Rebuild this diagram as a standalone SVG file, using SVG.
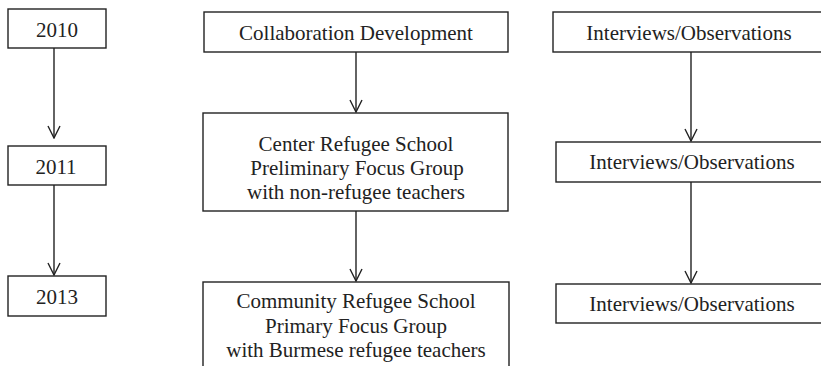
<svg xmlns="http://www.w3.org/2000/svg" width="821" height="366" viewBox="0 0 821 366">
  <style>
    .box { fill: #ffffff; stroke: #222222; stroke-width: 1.4; }
    .lbl { font-family: "Liberation Serif", "Times New Roman", serif; font-size: 21px; fill: #222222; text-anchor: middle; }
    .edge { stroke: #222222; stroke-width: 1.4; fill: none; marker-end: url(#head); }
  </style>
  <defs>
    <marker id="head" viewBox="0 0 14 14" refX="13" refY="7" markerWidth="14" markerHeight="14" markerUnits="userSpaceOnUse" orient="auto">
      <path d="M1,1 L13,7 L1,13" fill="none" stroke="#222222" stroke-width="1.4"/>
    </marker>
  </defs>
  <rect width="821" height="366" fill="#ffffff"/>

  <g id="connectors">
    <line class="edge" x1="54" y1="48" x2="54" y2="138"/>
    <line class="edge" x1="54" y1="185" x2="54" y2="275"/>
    <line class="edge" x1="356" y1="52" x2="356" y2="112"/>
    <line class="edge" x1="356" y1="211" x2="356" y2="281"/>
    <line class="edge" x1="691" y1="52" x2="691" y2="141"/>
    <line class="edge" x1="691" y1="182" x2="691" y2="283"/>
  </g>

  <g id="year-2010">
    <rect class="box" x="8" y="9" width="98" height="39"/>
    <text class="lbl" x="57" y="37">2010</text>
  </g>
  <g id="year-2011">
    <rect class="box" x="8" y="146" width="98" height="39"/>
    <text class="lbl" x="56" y="174">2011</text>
  </g>
  <g id="year-2013">
    <rect class="box" x="8" y="276" width="98" height="40"/>
    <text class="lbl" x="57" y="304">2013</text>
  </g>

  <g id="collaboration">
    <rect class="box" x="204" y="12" width="304" height="40"/>
    <text class="lbl" x="356" y="40">Collaboration Development</text>
  </g>
  <g id="center-school">
    <rect class="box" x="203" y="113" width="305" height="98"/>
    <text class="lbl" x="356" y="151">Center Refugee School</text>
    <text class="lbl" x="357" y="175">Preliminary Focus Group</text>
    <text class="lbl" x="356" y="199">with non-refugee teachers</text>
  </g>
  <g id="community-school">
    <rect class="box" x="203" y="282" width="306" height="100"/>
    <text class="lbl" x="356" y="308">Community Refugee School</text>
    <text class="lbl" x="356" y="333">Primary Focus Group</text>
    <text class="lbl" x="356" y="357">with Burmese refugee teachers</text>
  </g>

  <g id="interviews-1">
    <rect class="box" x="553" y="12" width="280" height="40"/>
    <text class="lbl" x="689" y="40">Interviews/Observations</text>
  </g>
  <g id="interviews-2">
    <rect class="box" x="556" y="142" width="280" height="40"/>
    <text class="lbl" x="692" y="169">Interviews/Observations</text>
  </g>
  <g id="interviews-3">
    <rect class="box" x="556" y="284" width="280" height="39"/>
    <text class="lbl" x="692" y="311">Interviews/Observations</text>
  </g>
</svg>
